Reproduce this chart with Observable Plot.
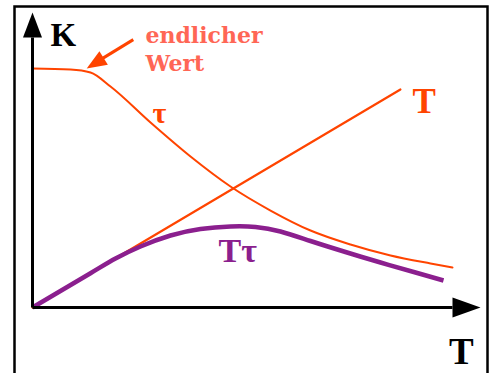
<!DOCTYPE html>
<html>
<head>
<meta charset="utf-8">
<script src="https://cdn.jsdelivr.net/npm/d3@7"></script>
<script src="https://cdn.jsdelivr.net/npm/@observablehq/plot@0.6"></script>
<style>
  html, body { margin: 0; padding: 0; background: white; }
  #chart { width: 493px; height: 373px; overflow: hidden; }
</style>
</head>
<body>
<div id="chart"></div>
<script>
// ---- data (abstract units: x 0..10, y 0..10) ----
const tLineX = [0, 8.76];
const tLineY = [0, 7.39];

const tauX = [0, 0.905, 1.381, 1.857, 2.810, 3.762, 4.714, 5.667, 6.619, 7.571, 8.524, 9.476, 10.0];
const tauY = [8.102, 8.068, 7.966, 7.492, 6.271, 5.119, 4.102, 3.288, 2.610, 2.136, 1.763, 1.492, 1.356];

const tTauX = [0, 1.381, 1.976, 2.571, 3.286, 4.000, 4.714, 5.310, 5.905, 6.619, 7.452, 8.286, 9.119, 9.786];
const tTauY = [0, 1.163, 1.661, 2.068, 2.441, 2.661, 2.746, 2.729, 2.576, 2.254, 1.881, 1.525, 1.186, 0.915];

// axes: origin, arrow bases and tips
const yAxisLine = [[0, 0], [0, 9.15]];
const xAxisLine = [[0, 0], [10, 0]];
const yAxisTip = [0, 10];
const xAxisTip = [10.667, 0];

// annotation arrow "endlicher Wert"
const noteLine = [[2.40, 9.08], [1.64, 8.42]];
const noteTip = [1.29, 8.10];

// labels
const labelK = {x: 0.43, y: 8.85, text: "K"};
const labelXT = {x: 10.21, y: -1.90, text: "T"};
const labelNote1 = {x: 2.69, y: 8.95, text: "endlicher"};
const labelNote2 = {x: 2.69, y: 8.03, text: "Wert"};
const labelTau = {x: 2.86, y: 6.27, text: "τ"};
const labelT = {x: 9.05, y: 6.61, text: "T"};
const labelTTau = {x: 4.43, y: 1.53, text: "Tτ"};

const orange = "#ff4400";
const salmon = "#ff6655";
const purple = "#8b1f8e";

function head(len, hw) {
  return {draw(ctx) { ctx.moveTo(0, 0); ctx.lineTo(-hw, len); ctx.lineTo(hw, len); ctx.closePath(); }};
}

function label(l, opts) {
  return Plot.text([l], {x: "x", y: "y", text: "text", textAnchor: "start", lineAnchor: "bottom",
    fontWeight: "bold", fontFamily: "Liberation Serif", ...opts});
}

const chart = Plot.plot({
  width: 493,
  height: 373,
  margin: 0,
  x: {domain: [0, 10], range: [32, 452], axis: null},
  y: {domain: [0, 10], range: [307, 12], axis: null},
  style: {background: "white"},
  marks: [
    Plot.frame({insetLeft: 14, insetTop: 6, insetRight: 6, insetBottom: -10, stroke: "black", strokeWidth: 2.5}),
    Plot.line(d3.zip(tLineX, tLineY), {stroke: orange, strokeWidth: 2.2}),
    Plot.line(d3.zip(tauX, tauY), {stroke: orange, strokeWidth: 2, curve: "monotone-x"}),
    Plot.line(d3.zip(tTauX, tTauY), {stroke: purple, strokeWidth: 4.5, curve: "natural", strokeLinecap: "butt"}),
    Plot.line(yAxisLine, {stroke: "black", strokeWidth: 3, strokeLinecap: "butt"}),
    Plot.line(xAxisLine, {stroke: "black", strokeWidth: 3, strokeLinecap: "butt"}),
    Plot.dot([yAxisTip], {x: d => d[0], y: d => d[1], symbol: head(25, 9.5), fill: "black", stroke: "none"}),
    Plot.dot([xAxisTip], {x: d => d[0], y: d => d[1], symbol: head(28, 10), rotate: 90, fill: "black", stroke: "none"}),
    Plot.line(noteLine, {stroke: orange, strokeWidth: 3, strokeLinecap: "butt"}),
    Plot.dot([noteTip], {x: d => d[0], y: d => d[1], symbol: head(20, 8), rotate: 238, fill: orange, stroke: "none"}),
    label(labelK, {fill: "black", fontSize: 33}),
    label(labelXT, {fill: "black", fontSize: 37, textAnchor: "middle"}),
    label(labelNote1, {fill: salmon, fontSize: 22, fontFamily: "DejaVu Serif"}),
    label(labelNote2, {fill: salmon, fontSize: 22, fontFamily: "DejaVu Serif"}),
    label(labelTau, {fill: orange, fontSize: 30}),
    label(labelT, {fill: orange, fontSize: 35}),
    label(labelTTau, {fill: purple, fontSize: 34})
  ]
});
document.getElementById("chart").appendChild(chart);
</script>
</body>
</html>
